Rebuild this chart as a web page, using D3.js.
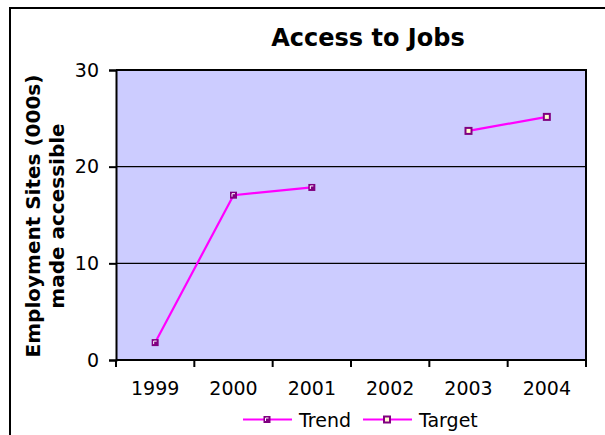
<!DOCTYPE html>
<html><head><meta charset="utf-8">
<script src="https://cdn.jsdelivr.net/npm/d3@7"></script>
<style>body{margin:0;background:#fff}svg{display:block}</style>
</head><body>
<svg id="c" width="605" height="435"></svg>
<script>
const categories = ["1999","2000","2001","2002","2003","2004"];
const trendValues = [1.8, 17.05, 17.85, null, null, null];
const targetValues = [null, null, null, null, 23.7, 25.15];
const yTicks = [0, 10, 20, 30];
const seriesNames = ["Trend", "Target"];

const svg = d3.select("#c");
const font = "'DejaVu Sans', Verdana, sans-serif";
const m = {l:116, r:586, t:70, b:360};

// outer border
svg.append("rect").attr("x",10).attr("y",8).attr("width",700).attr("height",500)
  .attr("fill","none").attr("stroke","#000").attr("stroke-width",2);

const x = d3.scaleBand().domain(categories).range([m.l, m.r]);
const y = d3.scaleLinear().domain([0,30]).range([m.b, m.t]);

svg.append("rect").attr("x",m.l).attr("y",m.t).attr("width",m.r-m.l).attr("height",m.b-m.t)
  .attr("fill","#CCCCFF");

// gridlines
svg.append("g").selectAll("line").data(yTicks.filter(d=>d>0&&d<30)).join("line")
  .attr("x1",m.l).attr("x2",m.r).attr("y1",d=>y(d)).attr("y2",d=>y(d))
  .attr("stroke","#000").attr("stroke-width",1.3);

// plot border top/right
svg.append("path").attr("d",`M${m.l},${m.t}H${m.r}V${m.b}`).attr("fill","none")
  .attr("stroke","#000").attr("stroke-width",2);

// y axis
const ya = svg.append("g").attr("transform",`translate(${m.l},0)`)
  .call(d3.axisLeft(y).tickValues(yTicks).tickSize(7).tickPadding(10));
ya.select(".domain").attr("stroke-width",2);
ya.selectAll(".tick line").attr("stroke-width",2);
ya.selectAll("text").attr("font-family",font).attr("font-size",19).attr("fill","#000");

// x axis
const xa = svg.append("g").attr("transform",`translate(0,${m.b})`)
  .call(d3.axisBottom(x).tickSize(0).tickPadding(22));
xa.select(".domain").attr("stroke-width",2).attr("d",`M${m.l},0H${m.r}`);
xa.selectAll("text").attr("font-family",font).attr("font-size",19).attr("fill","#000");
const bounds = categories.map(c=>x(c)).concat([m.r]);
xa.selectAll(".btick").data(bounds).join("line").attr("class","btick")
  .attr("x1",d=>d).attr("x2",d=>d).attr("y1",0).attr("y2",7)
  .attr("stroke","#000").attr("stroke-width",2);

// title
svg.append("text").attr("x",368).attr("y",46).attr("text-anchor","middle")
  .attr("font-family",font).attr("font-weight","bold").attr("font-size",24)
  .text("Access to Jobs");

// y title
const yt = svg.append("text").attr("transform","translate(0,216) rotate(-90)")
  .attr("text-anchor","middle").attr("font-family",font).attr("font-weight","bold").attr("font-size",20);
yt.append("tspan").attr("x",0).attr("y",40).text("Employment Sites (000s)");
yt.append("tspan").attr("x",0).attr("y",64).text("made accessible");

const cx = c => x(c) + x.bandwidth()/2;
const line = d3.line().defined(d=>d.v!=null).x(d=>cx(d.c)).y(d=>y(d.v));
const trend = categories.map((c,i)=>({c, v:trendValues[i]}));
const target = categories.map((c,i)=>({c, v:targetValues[i]}));

svg.append("path").attr("d",line(trend)).attr("fill","none").attr("stroke","#FF00FF").attr("stroke-width",2.2);
svg.append("path").attr("d",line(target)).attr("fill","none").attr("stroke","#FF00FF").attr("stroke-width",2.2);

function trendMarker(g, px, py){
  g.append("rect").attr("x",px-3.5).attr("y",py-3.5).attr("width",7).attr("height",7).attr("fill","#800080");
  g.append("path").attr("d",`M${px-1.5},${py+1.5}V${py-1.5}H${px+1.5}`).attr("fill","none").attr("stroke","#fff").attr("stroke-width",1);
}
function targetMarker(g, px, py){
  g.append("rect").attr("x",px-3).attr("y",py-3).attr("width",6).attr("height",6)
    .attr("fill","#FFFFCC").attr("stroke","#800080").attr("stroke-width",2);
}
const mg = svg.append("g");
trend.filter(d=>d.v!=null).forEach(d=>trendMarker(mg, cx(d.c), y(d.v)));
target.filter(d=>d.v!=null).forEach(d=>targetMarker(mg, cx(d.c), y(d.v)));

// legend
const lg = svg.append("g");
const ly = 419.5;
[[243,292,267,299],[363,412,387,419]].forEach((p,i)=>{
  lg.append("line").attr("x1",p[0]).attr("x2",p[1]).attr("y1",ly).attr("y2",ly).attr("stroke","#FF00FF").attr("stroke-width",2.2);
  if(i===0) trendMarker(lg,p[2],ly); else targetMarker(lg,p[2],ly);
  lg.append("text").attr("x",p[3]).attr("y",427).attr("font-family",font).attr("font-size",19).text(seriesNames[i]);
});
</script>
</body></html>
